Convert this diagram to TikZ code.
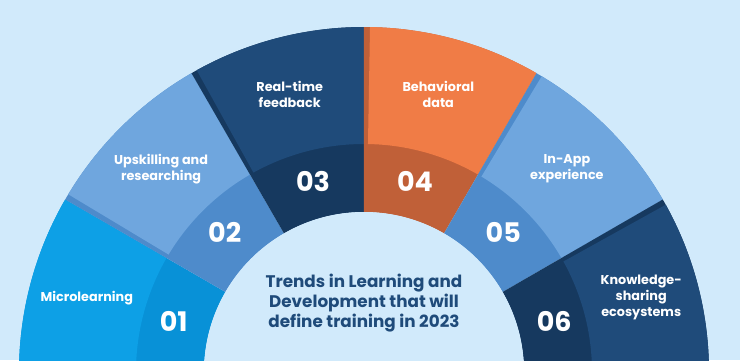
\documentclass[tikz,border=0pt]{standalone}
\usepackage{fontspec}
\setmainfont{Poppins}
\usetikzlibrary{positioning}
\definecolor{bgblue}{RGB}{209,234,251}
\definecolor{skyA}{RGB}{13,160,230}
\definecolor{skyB}{RGB}{8,145,215}
\definecolor{midA}{RGB}{111,166,222}
\definecolor{midB}{RGB}{78,139,203}
\definecolor{navyA}{RGB}{31,75,122}
\definecolor{navyB}{RGB}{22,57,95}
\definecolor{orgA}{RGB}{240,124,70}
\definecolor{orgB}{RGB}{192,96,56}
\tikzset{
  numtxt/.style={text=white,font=\bfseries\fontsize{27}{27}\selectfont},
  segtxt/.style={text=white,align=center,font=\bfseries\fontsize{12.8}{16}\selectfont},
  titletxt/.style={text=navyA,align=center,font=\bfseries\fontsize{16.8}{20}\selectfont}
}

\begin{document}
\begin{tikzpicture}[x=1pt,y=1pt]
                \useasboundingbox (-364,12) rectangle (376,372);
                \clip (-364,12) rectangle (376,372);
                \fill[bgblue] (-364,12) rectangle (376,372);
                % six sectors, number band inside, thin side strip on the upper edge
                \foreach \n/\a/\outer/\band/\txt in {
                    01/150/skyA/skyB/{Microlearning},
                    02/120/midA/midB/{Upskilling and\\researching},
                    03/90/navyA/navyB/{Real-time\\feedback},
                    04/60/orgA/orgB/{Behavioral\\data},
                    05/30/midA/midB/{In-App\\experience},
                    06/0/navyA/navyB/{Knowledge-\\sharing\\ecosystems}}{
                    \fill[\band] (\a:160) arc[start angle=\a,end angle=\a+30,radius=160]
                        -- (\a+30:345) arc[start angle=\a+30,end angle=\a,radius=345] -- cycle;
                    \fill[\outer] (\a:228) arc[start angle=\a,end angle=\a+29,radius=228]
                        -- (\a+29:345) arc[start angle=\a+29,end angle=\a,radius=345] -- cycle;
                    \node[numtxt] (num\n) at (\a+15:197) {\n};
                    \node[segtxt] (lbl\n) at (\a+15:287) {\txt};
                }
                \fill[bgblue] (0,0) circle[radius=160];
                \node[titletxt] (title) at (0,69) {Trends in Learning and\\Development that will\\define training in 2023};
            \end{tikzpicture}
\end{document}
